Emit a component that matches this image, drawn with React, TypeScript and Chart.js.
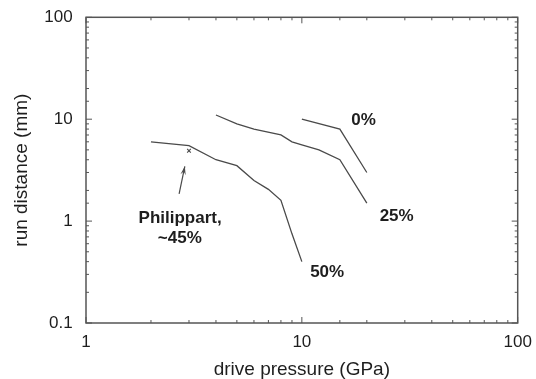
import { useEffect, useRef } from "react";
import { Chart, registerables } from "chart.js";

Chart.register(...registerables);

// ---- data ----
const pressure0 = [10, 15, 20];
const distance0 = [10, 8, 3];

const pressure25 = [4, 5, 6, 8, 9, 10, 12, 15, 20];
const distance25 = [11, 9, 8, 7, 6, 5.6, 5, 4, 1.5];

const pressure50 = [2, 3, 4, 5, 6, 7, 8, 9, 10];
const distance50 = [6, 5.5, 4, 3.5, 2.5, 2.05, 1.6, 0.75, 0.4];

const philippartPressure = [3];
const philippartDistance = [4.9];

const xDecadeLabels = [1, 10, 100];
const yDecadeLabels = [0.1, 1, 10, 100];

const annotationTexts = ["0%", "25%", "50%", "Philippart,", "~45%"];
const annotationX = [19.3, 27.5, 13.1, 2.73, 2.72];
const annotationY = [9.7, 1.11, 0.313, 1.07, 0.68];

const arrowFrom = [2.7, 1.85];
const arrowTo = [2.87, 3.45];

const toPoints = (xs: number[], ys: number[]) => xs.map((x, i) => ({ x, y: ys[i] }));
const isDecade = (v: number) => Math.abs(Math.log10(v) - Math.round(Math.log10(v))) < 1e-6;

const FONT = "'Liberation Sans', Arial, Helvetica, sans-serif";
const LINE = "#4a4a4a";
const TEXT = "#1e1e1e";

const decorPlugin = {
  id: "decor",
  afterDraw(chart: any) {
    const { ctx, chartArea: a, scales } = chart;
    const xs = scales.x;
    const ys = scales.y;
    ctx.save();
    // frame
    ctx.strokeStyle = "#555";
    ctx.lineWidth = 1.5;
    ctx.strokeRect(a.left, a.top, a.right - a.left, a.bottom - a.top);
    // inner ticks
    ctx.lineWidth = 1;
    ctx.strokeStyle = "#555";
    ctx.beginPath();
    xs.ticks.forEach((t: any) => {
      const px = xs.getPixelForValue(t.value);
      const len = isDecade(t.value) ? 6 : 3;
      ctx.moveTo(px, a.bottom);
      ctx.lineTo(px, a.bottom - len);
      ctx.moveTo(px, a.top);
      ctx.lineTo(px, a.top + len);
    });
    ys.ticks.forEach((t: any) => {
      const py = ys.getPixelForValue(t.value);
      const len = isDecade(t.value) ? 6 : 3;
      ctx.moveTo(a.left, py);
      ctx.lineTo(a.left + len, py);
      ctx.moveTo(a.right, py);
      ctx.lineTo(a.right - len, py);
    });
    ctx.stroke();

    // annotation texts
    ctx.fillStyle = TEXT;
    ctx.font = `bold 17px ${FONT}`;
    ctx.textAlign = "center";
    ctx.textBaseline = "middle";
    annotationTexts.forEach((txt, i) => {
      ctx.fillText(txt, xs.getPixelForValue(annotationX[i]), ys.getPixelForValue(annotationY[i]));
    });

    // arrow
    const x1 = xs.getPixelForValue(arrowFrom[0]);
    const y1 = ys.getPixelForValue(arrowFrom[1]);
    const x2 = xs.getPixelForValue(arrowTo[0]);
    const y2 = ys.getPixelForValue(arrowTo[1]);
    ctx.strokeStyle = LINE;
    ctx.lineWidth = 1.2;
    ctx.beginPath();
    ctx.moveTo(x1, y1);
    ctx.lineTo(x2, y2);
    ctx.stroke();
    const ang = Math.atan2(y2 - y1, x2 - x1);
    const hl = 9;
    const hw = 0.3;
    ctx.fillStyle = LINE;
    ctx.beginPath();
    ctx.moveTo(x2, y2);
    ctx.lineTo(x2 - hl * Math.cos(ang - hw), y2 - hl * Math.sin(ang - hw));
    ctx.lineTo(x2 - hl * 0.6 * Math.cos(ang), y2 - hl * 0.6 * Math.sin(ang));
    ctx.lineTo(x2 - hl * Math.cos(ang + hw), y2 - hl * Math.sin(ang + hw));
    ctx.closePath();
    ctx.fill();
    ctx.restore();
  },
};

export default function App() {
  const ref = useRef<HTMLCanvasElement | null>(null);

  useEffect(() => {
    document.body.style.margin = "0";
    document.body.style.background = "#fff";
    if (!ref.current) return;
    const lineDs = (data: any[]) => ({
      data,
      showLine: true,
      borderColor: LINE,
      borderWidth: 1.3,
      pointRadius: 0,
      fill: false,
      tension: 0,
    });
    const chart = new Chart(ref.current, {
      type: "scatter",
      data: {
        datasets: [
          lineDs(toPoints(pressure0, distance0)),
          lineDs(toPoints(pressure25, distance25)),
          lineDs(toPoints(pressure50, distance50)),
          {
            data: toPoints(philippartPressure, philippartDistance),
            showLine: false,
            pointStyle: "crossRot",
            pointRadius: 2.6,
            borderColor: LINE,
            borderWidth: 1.1,
            backgroundColor: LINE,
          } as any,
        ],
      },
      options: {
        responsive: false,
        animation: false,
        layout: { padding: { top: 17.3, right: 18.3, left: 0, bottom: 0 } },
        plugins: {
          legend: { display: false },
          tooltip: { enabled: false },
        },
        scales: {
          x: {
            type: "logarithmic",
            min: 1,
            max: 100,
            grid: { display: false, drawTicks: false },
            border: { display: false },
            afterFit: (s: any) => {
              s.height = 56;
              s.paddingLeft = 0;
              s.paddingRight = 0;
              s.paddingTop = 0;
              s.paddingBottom = 0;
            },
            ticks: {
              autoSkip: false,
              maxRotation: 0,
              padding: 9.3,
              color: TEXT,
              font: { family: FONT, size: 17 },
              callback: (v: any) => (xDecadeLabels.some((d) => Math.abs(d - Number(v)) < 1e-9) ? String(v) : ""),
            },
            title: {
              display: true,
              text: "drive pressure (GPa)",
              color: TEXT,
              font: { family: FONT, size: 19, lineHeight: 1 },
              padding: 0,
            },
          },
          y: {
            type: "logarithmic",
            min: 0.1,
            max: 100,
            grid: { display: false, drawTicks: false },
            border: { display: false },
            afterFit: (s: any) => {
              s.width = 86;
              s.paddingLeft = 0;
              s.paddingRight = 0;
              s.paddingTop = 0;
              s.paddingBottom = 0;
            },
            ticks: {
              autoSkip: false,
              padding: 13.3,
              color: TEXT,
              font: { family: FONT, size: 17 },
              callback: (v: any) => (yDecadeLabels.some((d) => Math.abs(d - Number(v)) < 1e-9) ? String(v) : ""),
            },
            title: {
              display: true,
              text: "run distance (mm)",
              color: TEXT,
              font: { family: FONT, size: 19, lineHeight: 1 },
              padding: { top: 12, bottom: 0 },
            },
          },
        },
      } as any,
      plugins: [decorPlugin],
    });
    return () => chart.destroy();
  }, []);

  return <canvas ref={ref} width={536} height={379} style={{ display: "block" }} />;
}
